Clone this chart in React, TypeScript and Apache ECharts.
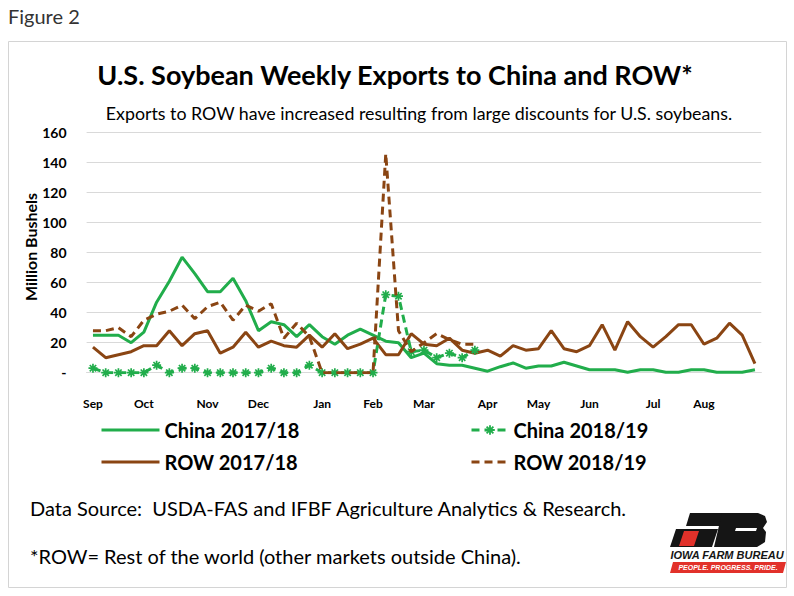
import React, { useEffect, useRef } from 'react';
import * as echarts from 'echarts';

// ---- data ----
const monthLabels = ['Sep', 'Oct', 'Nov', 'Dec', 'Jan', 'Feb', 'Mar', 'Apr', 'May', 'Jun', 'Jul', 'Aug'];
const monthWeekIndex = [0, 4, 9, 13, 18, 22, 26, 31, 35, 39, 44, 48];
const weekCount = 53;

const china1718 = [25, 25, 25, 20, 27, 47, 61, 77, 66, 54, 54, 63, 48, 28, 34, 32, 24, 32, 24, 19, 25, 29, 25, 21, 20, 10, 13, 6, 5, 5, 3, 1, 4, 6.5, 3, 4.5, 4.5, 7, 4.5, 2, 2, 2, 0.3, 2, 2, 0.3, 0.3, 2, 2, 0.3, 0.3, 0.3, 2];
const row1718 = [17, 10, 12, 14, 18, 18, 28, 18, 26, 28, 13, 17, 27, 17, 21, 18, 17, 25, 17, 26, 16, 19, 23, 12, 12, 26, 19, 18, 23, 15, 13, 15, 11, 18, 15, 16, 28, 16, 14, 18, 32, 15, 34, 24, 17, 24, 32, 32, 19, 23, 33, 25, 6];
const china1819 = [3, 0, 0, 0, 0, 5, 0, 3, 3, 0, 0, 0, 0, 0, 3, 0, 0, 5, 0, 0, 0, 0, 0, 52, 51, 14, 15, 10, 13, 10, 15];
const row1819 = [28, 28, 30, 24, 35, 39, 41, 45, 36, 44, 47, 35, 45, 41, 46, 23, 33, 24, 0, 0, 0, 0, 0, 146, 28, 14, 20, 26, 22, 19, 19];

const seriesNames = ['China 2017/18', 'ROW 2017/18', 'China 2018/19', 'ROW 2018/19'];

const GREEN = '#21ad4b';
const BROWN = '#8a4513';
const FONT = 'Lato, "Noto Sans", sans-serif';

function padToWeeks(arr: number[]): (number | null)[] {
  const out: (number | null)[] = [];
  for (let i = 0; i < weekCount; i++) out.push(i < arr.length ? arr[i] : null);
  return out;
}

function asteriskPath(): string {
  const L = 10;
  const W = 1.9;
  const parts = [0, 45, 90, 135].map((deg) => {
    const a = (deg * Math.PI) / 180;
    const dx = Math.cos(a);
    const dy = Math.sin(a);
    const nx = -dy;
    const ny = dx;
    const pts = [
      [L * dx + W * nx, L * dy + W * ny],
      [L * dx - W * nx, L * dy - W * ny],
      [-L * dx - W * nx, -L * dy - W * ny],
      [-L * dx + W * nx, -L * dy + W * ny],
    ];
    return 'M' + pts.map((p) => p[0].toFixed(2) + ' ' + p[1].toFixed(2)).join(' L') + ' Z';
  });
  return 'path://' + parts.join(' ');
}

export default function App() {
  const ref = useRef<HTMLDivElement>(null);

  useEffect(() => {
    if (!ref.current) return;
    const chart = echarts.init(ref.current, undefined, { renderer: 'svg' });
    const categories = Array.from({ length: weekCount }, (_, i) => 'W' + (i + 1));
    const labelByIndex = new Map<number, string>();
    monthWeekIndex.forEach((w, k) => labelByIndex.set(w, monthLabels[k]));

    const legendText = { fontSize: 20, fontWeight: 'bold', color: '#000', fontFamily: FONT, lineHeight: 20 };
    const noSymbol = { opacity: 0 };

    const option: any = {
      animation: false,
      backgroundColor: '#fff',
      textStyle: { fontFamily: FONT },
      grid: { left: 86.6, right: 32.7, top: 132.7, bottom: 223.3, containLabel: false },
      xAxis: {
        type: 'category',
        data: categories,
        boundaryGap: true,
        axisLine: { show: true, lineStyle: { color: '#d9d9d9', width: 1 } },
        axisTick: { show: false },
        splitLine: { show: false },
        axisLabel: {
          interval: (i: number) => labelByIndex.has(i),
          formatter: (_v: string, i: number) => labelByIndex.get(i) ?? '',
          fontWeight: 'bold',
          fontSize: 12,
          color: '#000',
          margin: 25,
          fontFamily: FONT,
        },
      },
      yAxis: {
        type: 'value',
        min: 0,
        max: 160,
        interval: 20,
        axisLine: { show: false },
        axisTick: { show: false },
        axisLabel: {
          formatter: (v: number) => (v === 0 ? '-' : String(v)),
          fontWeight: 'bold',
          fontSize: 14,
          color: '#000',
          margin: 20,
          fontFamily: FONT,
        },
        splitLine: { lineStyle: { color: '#d9d9d9', width: 1 } },
      },
      legend: [
        {
          left: 100,
          top: 420,
          padding: 0,
          orient: 'vertical',
          itemWidth: 58,
          itemHeight: 12,
          itemGap: 12,
          lineStyle: { width: 3 },
          data: [
            { name: seriesNames[0], itemStyle: noSymbol },
            { name: seriesNames[1], itemStyle: noSymbol },
          ],
          textStyle: legendText,
        },
        {
          left: 470,
          top: 420,
          padding: 0,
          orient: 'vertical',
          itemWidth: 37,
          itemHeight: 12,
          itemGap: 12,
          lineStyle: { width: 3 },
          data: [seriesNames[2], { name: seriesNames[3], itemStyle: noSymbol }],
          textStyle: legendText,
        },
      ],
      series: [
        {
          name: seriesNames[0],
          type: 'line',
          data: padToWeeks(china1718),
          symbol: 'none',
          lineStyle: { color: GREEN, width: 3 },
          itemStyle: { color: GREEN },
          z: 2,
        },
        {
          name: seriesNames[1],
          type: 'line',
          data: padToWeeks(row1718),
          symbol: 'none',
          lineStyle: { color: BROWN, width: 3 },
          itemStyle: { color: BROWN },
          z: 3,
        },
        {
          name: seriesNames[2],
          type: 'line',
          data: padToWeeks(china1819),
          symbol: asteriskPath(),
          symbolSize: 9,
          showSymbol: true,
          showAllSymbol: true,
          lineStyle: { color: GREEN, width: 3, type: [8, 5] },
          itemStyle: { color: GREEN },
          z: 4,
        },
        {
          name: seriesNames[3],
          type: 'line',
          data: padToWeeks(row1819),
          symbol: 'none',
          lineStyle: { color: BROWN, width: 3, type: [8, 5] },
          itemStyle: { color: BROWN },
          z: 5,
        },
      ],
      graphic: [
        {
          type: 'rect',
          shape: { x: 8.5, y: 41.5, width: 778, height: 546 },
          style: { fill: 'none', stroke: '#d4d4d4', lineWidth: 1 },
          silent: true,
        },
        {
          type: 'text',
          x: 8,
          y: 16,
          style: { text: 'Figure 2', font: `20px ${FONT}`, fill: '#333', textVerticalAlign: 'middle' },
        },
        {
          type: 'text',
          x: 395,
          y: 74,
          style: {
            text: 'U.S. Soybean Weekly Exports to China and ROW*',
            font: `bold 27px ${FONT}`,
            fill: '#000',
            textAlign: 'center',
            textVerticalAlign: 'middle',
          },
        },
        {
          type: 'text',
          x: 419,
          y: 113,
          style: {
            text: 'Exports to ROW have increased resulting from large discounts for U.S. soybeans.',
            font: `17.8px ${FONT}`,
            fill: '#000',
            textAlign: 'center',
            textVerticalAlign: 'middle',
          },
        },
        {
          type: 'text',
          x: 30,
          y: 247,
          rotation: Math.PI / 2,
          style: {
            text: 'Million Bushels',
            font: `bold 16px ${FONT}`,
            fill: '#000',
            textAlign: 'center',
            textVerticalAlign: 'middle',
          },
        },
        {
          type: 'text',
          x: 30,
          y: 508,
          style: {
            text: 'Data Source:  USDA-FAS and IFBF Agriculture Analytics & Research.',
            font: `20px ${FONT}`,
            fill: '#000',
            textVerticalAlign: 'middle',
          },
        },
        {
          type: 'text',
          x: 30,
          y: 556,
          style: {
            text: '*ROW= Rest of the world (other markets outside China).',
            font: `20px ${FONT}`,
            fill: '#000',
            textVerticalAlign: 'middle',
          },
        },
        // logo
        {
          type: 'group',
          silent: true,
          children: [
            { type: 'polygon', shape: { points: [[690, 513], [738, 513], [734, 526], [686, 526]] }, style: { fill: '#151515' } },
            { type: 'polygon', shape: { points: [[676, 529], [718, 529], [712, 547], [670, 547]] }, style: { fill: '#151515' } },
            { type: 'polygon', shape: { points: [[684, 531], [699, 531], [694, 546], [679, 546]] }, style: { fill: '#e2312a' } },
            {
              type: 'polygon',
              shape: {
                points: [[722, 513], [758, 513], [765, 516], [767, 522], [763, 528], [766, 532], [765, 542], [757, 547], [714, 547]],
              },
              style: { fill: '#151515' },
            },
            { type: 'polygon', shape: { points: [[736, 528], [757, 528], [756, 531], [735, 531]] }, style: { fill: '#fff' } },
            {
              type: 'text',
              x: 727,
              y: 555,
              style: {
                text: 'IOWA FARM BUREAU',
                font: `italic bold 11px "Liberation Sans", Arial, sans-serif`,
                fill: '#151515',
                textAlign: 'center',
                textVerticalAlign: 'middle',
              },
            },
            { type: 'polygon', shape: { points: [[673, 562], [786, 562], [783, 573], [670, 573]] }, style: { fill: '#e2312a' } },
            {
              type: 'text',
              x: 728,
              y: 567.5,
              style: {
                text: 'PEOPLE. PROGRESS. PRIDE.',
                font: `italic bold 7px "Liberation Sans", Arial, sans-serif`,
                fill: '#fff',
                textAlign: 'center',
                textVerticalAlign: 'middle',
              },
            },
          ],
        },
      ],
    };

    chart.setOption(option);
    return () => chart.dispose();
  }, []);

  return (
    <div
      ref={ref}
      style={{ position: 'absolute', left: 0, top: 0, width: 794, height: 596, background: '#fff' }}
    />
  );
}
